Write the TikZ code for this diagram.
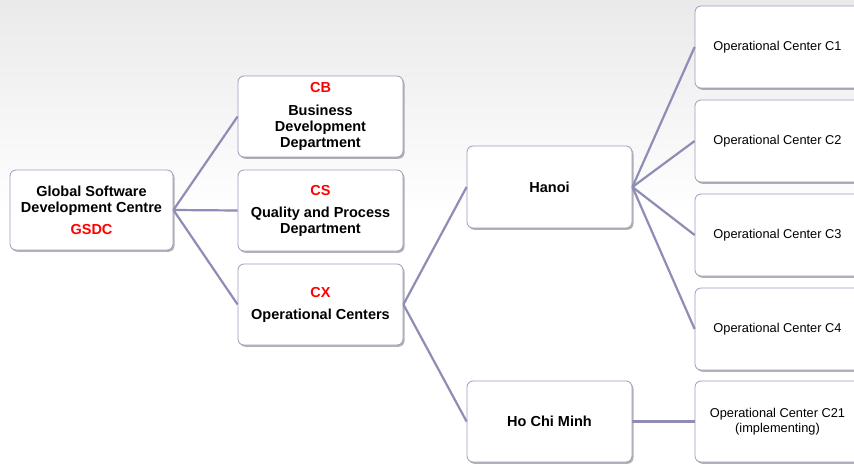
\documentclass[tikz,border=0pt]{standalone}
\usepackage{fontspec}
\setmainfont{Liberation Sans}
\usetikzlibrary{shadows}
\definecolor{linec}{HTML}{8E8DB5}
\definecolor{boxc}{HTML}{9C9CC0}
\definecolor{redt}{HTML}{FF0000}
\definecolor{bgtop}{HTML}{EAEAEA}
\tikzset{
  box/.style={draw=boxc, line width=0.8pt, fill=white, rounded corners=6pt,
    minimum width=165pt, minimum height=81pt, align=center, inner sep=2pt,
    drop shadow={shadow xshift=1.5pt, shadow yshift=-1.8pt, fill=black!55, opacity=0.55}},
  bt/.style={font=\fontsize{14.5}{16}\selectfont\bfseries},
  rt/.style={font=\fontsize{12.8}{14.5}\selectfont},
  conn/.style={draw=linec, line width=2.2pt},
}
\begin{document}
\begin{tikzpicture}[x=1pt,y=-1pt]
\clip (0,0) rectangle (854,465);
\fill[white] (0,0) rectangle (854,465);
\shade[top color=bgtop, bottom color=white] (0,0) rectangle (854,215);

\node[box, bt, minimum width=163pt, minimum height=80pt] (gsdc) at (91.5,210)
  {Global Software\\Development Centre\\[6pt]\textcolor{redt}{GSDC}};
\node[box, bt] (cb) at (320.5,116.5)
  {\textcolor{redt}{CB}\\[7pt]Business\\Development\\Department};
\node[box, bt] (cs) at (320.5,210.5)
  {\textcolor{redt}{CS}\\[6pt]Quality and Process\\Department};
\node[box, bt] (cx) at (320.5,304.5)
  {\textcolor{redt}{CX}\\[6pt]Operational Centers};
\node[box, bt, minimum height=82pt] (hanoi) at (549.5,187) {Hanoi};
\node[box, bt] (hcm) at (549.5,421.5) {Ho Chi Minh};
\node[box, rt, minimum height=82pt] (c1) at (777.5,47) {Operational Center C1};
\node[box, rt, minimum height=82pt] (c2) at (777.5,141) {Operational Center C2};
\node[box, rt, minimum height=82pt] (c3) at (777.5,235) {Operational Center C3};
\node[box, rt, minimum height=82pt] (c4) at (777.5,329) {Operational Center C4};
\node[box, rt] (c21) at (777.5,421.5) {Operational Center C21\\(implementing)};

\draw[conn] (gsdc.east) -- (cb.west);
\draw[conn] (gsdc.east) -- (cs.west);
\draw[conn] (gsdc.east) -- (cx.west);
\draw[conn] (cx.east) -- (hanoi.west);
\draw[conn] (cx.east) -- (hcm.west);
\draw[conn] (hanoi.east) -- (c1.west);
\draw[conn] (hanoi.east) -- (c2.west);
\draw[conn] (hanoi.east) -- (c3.west);
\draw[conn] (hanoi.east) -- (c4.west);
\draw[conn] (hcm.east) -- (c21.west);
\end{tikzpicture}
\end{document}
